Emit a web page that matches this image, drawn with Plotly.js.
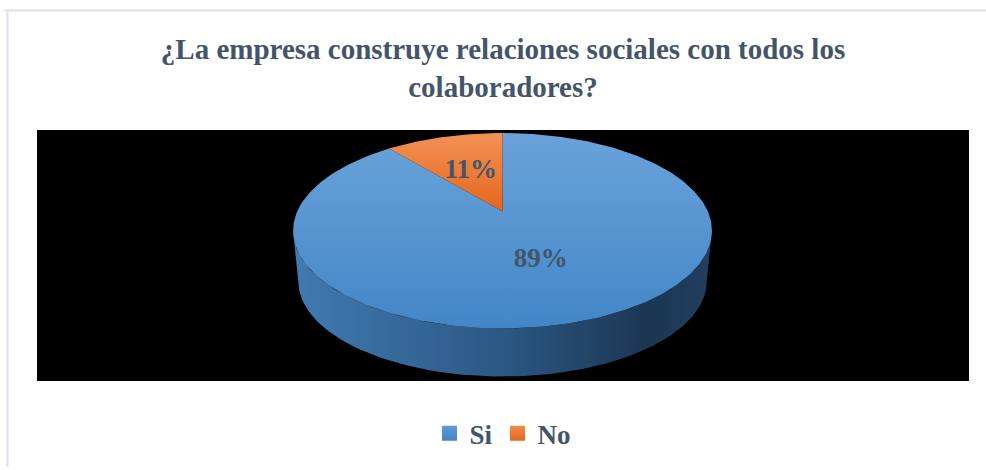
<!DOCTYPE html>
<html>
<head>
<meta charset="utf-8">
<script src="https://cdn.plot.ly/plotly-3.0.1.min.js"></script>
<style>html,body{margin:0;padding:0;background:#fff;}#chart{width:986px;height:470px;}</style>
</head>
<body>
<div id="chart"></div>
<script>
// ---- data ----
const categories = ['Si', 'No'];
const values = [89, 11];
const valueLabels = ['89%', '11%'];
const chartTitle = '¿La empresa construye relaciones sociales con todos los<br>colaboradores?';

// ---- styles ----
const topScales = [
  [[0, '#6aa3da'], [1, '#4386c7']],
  [[0, '#f29155'], [1, '#e5661c']]
];
const sideScales = [
  [[0, '#417ab1'], [0.5, '#2b5884'], [0.85, '#1c3653'], [1, '#21405e']],
  [[0, '#c46a2c'], [1, '#7a3d12']]
];
const legendColors = [['#5f9bd6', '#4385c6'], ['#f28b4e', '#e4661c']];
const textColor = '#44546a';
const FONT = "'Liberation Serif', 'DejaVu Serif', 'Times New Roman', Times, serif";

// ---- 3D pie geometry (perspective projection, screen-pixel axes) ----
const CX = 502.5, CY = 212, A = 205.3, B = 94.6, K = 0.198;
const DEPTH = 51.5, S = 0.975;
function proj(psiDeg, f, bottom) {
  const p = psiDeg * Math.PI / 180;
  const X = f * Math.sin(p), Y = -f * Math.cos(p);
  const w = 1 - K * Y;
  const s = bottom ? S : 1;
  return [CX + s * A * X / w, CY + (bottom ? DEPTH : 0) + s * B * Y / w];
}
function arc(a, b, bottom) {
  const pts = [];
  const n = Math.max(2, Math.ceil(Math.abs(b - a)));
  for (let i = 0; i <= n; i++) pts.push(proj(a + (b - a) * i / n, 1, bottom));
  return pts;
}
const total = values.reduce((s, v) => s + v, 0);
const slices = [];
let cum = 0;
values.forEach((v, i) => {
  const start = cum / total * 360;
  cum += v;
  const end = cum / total * 360;
  slices.push({i, start, end, mid: (start + end) / 2});
});
const visR = Math.acos(-K) * 180 / Math.PI; // right silhouette
const visL = 360 - visR;                    // left silhouette

const traces = [];
// sides
slices.forEach(sl => {
  const a = Math.max(sl.start, visR), b = Math.min(sl.end, visL);
  if (b <= a) return;
  const top = arc(a, b, false), bot = arc(b, a, true);
  const pts = top.concat(bot);
  pts.push(top[0]);
  const xs = pts.map(p => p[0]);
  traces.push({
    type: 'scatter', mode: 'lines', x: xs, y: pts.map(p => p[1]),
    fill: 'toself', line: {width: 0, color: 'rgba(0,0,0,0)'},
    fillgradient: {type: 'horizontal', colorscale: sideScales[sl.i],
      start: Math.min(...xs), stop: Math.max(...xs)},
    hoverinfo: 'skip', showlegend: false
  });
});
// tops
slices.forEach(sl => {
  const c = proj(0, 0, false);
  const pts = [c].concat(arc(sl.start, sl.end, false));
  pts.push(c);
  const ys = pts.map(p => p[1]);
  traces.push({
    type: 'scatter', mode: 'lines', x: pts.map(p => p[0]), y: ys,
    fill: 'toself', line: {width: 0, color: 'rgba(0,0,0,0)'},
    fillgradient: {type: 'vertical', colorscale: topScales[sl.i],
      start: Math.min(...ys), stop: Math.max(...ys)},
    hoverinfo: 'skip', showlegend: false
  });
});
// value labels
const lp = slices.map(sl => proj(sl.mid, 0.5, false));
traces.push({
  type: 'scatter', mode: 'text', x: lp.map(p => p[0]), y: lp.map(p => p[1]),
  text: valueLabels, textposition: 'middle center',
  textfont: {family: FONT, size: 27, color: textColor, weight: 'bold'},
  hoverinfo: 'skip', showlegend: false
});
// legend entries
categories.forEach((c, i) => {
  traces.push({
    type: 'scatter', mode: 'markers', x: [null], y: [null], name: c,
    marker: {symbol: 'square', size: 15, color: legendColors[i][0],
      gradient: {type: 'vertical', color: legendColors[i][1]}},
    hoverinfo: 'skip', showlegend: true
  });
});

const layout = {
  width: 986, height: 470,
  font: {family: FONT},
  margin: {l: 37, r: 17, t: 130, b: 87, pad: 0},
  paper_bgcolor: '#ffffff', plot_bgcolor: '#000000',
  title: {text: chartTitle, x: 0.5, xref: 'paper', xanchor: 'center',
    y: 1 - 59 / 470, yref: 'container', yanchor: 'top',
    font: {family: FONT, size: 29, color: textColor, weight: 'bold'}},
  xaxis: {range: [37, 969], visible: false, fixedrange: true},
  yaxis: {range: [383, 130], visible: false, fixedrange: true},
  showlegend: true,
  legend: {orientation: 'h', x: 0.5, xanchor: 'center', y: -0.21, yanchor: 'middle',
    font: {family: FONT, size: 27, color: textColor, weight: 'bold'},
    bgcolor: 'rgba(0,0,0,0)', itemwidth: 30, itemclick: false, itemdoubleclick: false},
  shapes: [
    {type: 'line', xref: 'paper', yref: 'paper', x0: (4 - 37) / 932, x1: (986 - 37) / 932,
      y0: (383 - 9.5) / 253, y1: (383 - 9.5) / 253, line: {color: '#dbe1ea', width: 2}},
    {type: 'line', xref: 'paper', yref: 'paper', x0: (7.5 - 37) / 932, x1: (7.5 - 37) / 932,
      y0: (383 - 9) / 253, y1: (383 - 470) / 253, line: {color: '#dbe1ea', width: 2}}
  ]
};
Plotly.newPlot('chart', traces, layout, {displayModeBar: false, staticPlot: true});
</script>
</body>
</html>
